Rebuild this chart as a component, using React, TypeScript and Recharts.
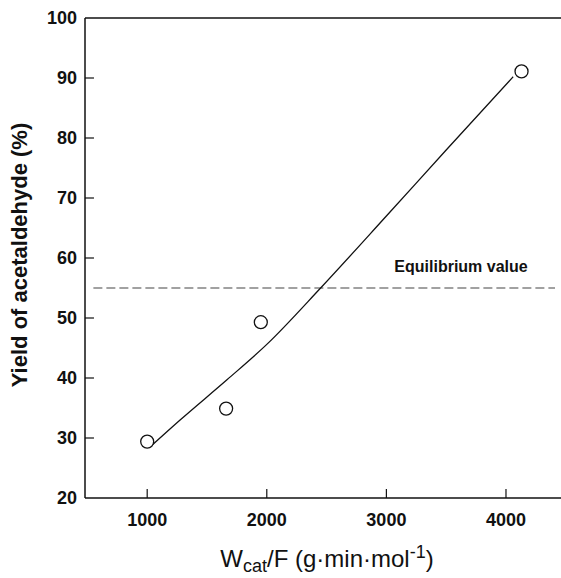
import React from 'react'
import {
  ComposedChart,
  Line,
  Scatter,
  XAxis,
  YAxis,
  ReferenceLine,
  ReferenceDot,
} from 'recharts'

// measured yields
const feedRatio = [1000, 1660, 1950, 4130]
const yieldPct = [29.4, 34.9, 49.3, 91.1]

// fitted curve
const curveX = [1040, 1275, 1667, 2000, 2450, 3000, 3500, 4060]
const curveY = [28.8, 33.0, 39.7, 45.6, 55.0, 67.0, 78.0, 90.2]

const xTicks = [1000, 2000, 3000, 4000]
const yTicks = [20, 30, 40, 50, 60, 70, 80, 90, 100]
const equilibrium = 55

const points = feedRatio.map((x, i) => ({ x, y: yieldPct[i] }))
const curve = curveX.map((x, i) => ({ x, y: curveY[i] }))

const font = '"Liberation Sans", Arial, Helvetica, sans-serif'
const X_MIN = 480
const X_MAX = 4460
const TOP = 18
const PLOT_H = 480

function XTitle(props: any) {
  const vb = props.viewBox || {}
  const cx = vb.x + vb.width / 2 + 4
  return (
    <text x={cx} y={567} textAnchor="middle" fontFamily={font} fontSize={24} fill="#111">
      <tspan>W</tspan>
      <tspan fontSize={18} dy={5}>cat</tspan>
      <tspan dy={-5}>/F (g·min·mol</tspan>
      <tspan fontSize={18} dy={-9}>-1</tspan>
      <tspan dy={9}>)</tspan>
    </text>
  )
}

function YTitle() {
  const cy = TOP + PLOT_H / 2 - 3
  const x = 27
  return (
    <text
      x={x}
      y={cy}
      transform={`rotate(-90, ${x}, ${cy})`}
      textAnchor="middle"
      fontFamily={font}
      fontSize={22}
      fontWeight="bold"
      fill="#111"
    >
      Yield of acetaldehyde (%)
    </text>
  )
}

const OpenCircle = (p: any) => (
  <circle cx={p.cx} cy={p.cy} r={6.5} fill="#fff" stroke="#111" strokeWidth={1.3} />
)

export default function App() {
  const tickStyle = { fontFamily: font, fontSize: 18, fontWeight: 'bold' as const, fill: '#111' }
  return (
    <div style={{ position: 'absolute', left: 0, top: 0, width: 561, height: 578, background: '#fff' }}>
      <ComposedChart width={561} height={578} margin={{ top: TOP, right: 0, bottom: 0, left: 0 }}>
        <XAxis
          type="number"
          dataKey="x"
          domain={[X_MIN, X_MAX]}
          ticks={xTicks}
          allowDataOverflow
          height={80}
          tickLine={false}
          tickSize={0}
          tickMargin={15}
          axisLine={{ stroke: '#111', strokeWidth: 1.5 }}
          tick={tickStyle}
          label={<XTitle />}
        />
        <YAxis
          type="number"
          dataKey="y"
          domain={[20, 100]}
          ticks={yTicks}
          allowDataOverflow
          width={85}
          tickLine={false}
          tickSize={0}
          tickMargin={8}
          axisLine={{ stroke: '#111', strokeWidth: 1.5 }}
          tick={tickStyle}
          label={<YTitle />}
        />
        <ReferenceLine y={100} stroke="#111" strokeWidth={1.5} />
        {yTicks.slice(1, -1).map((v) => (
          <ReferenceLine
            key={'yt' + v}
            segment={[{ x: X_MIN, y: v }, { x: X_MIN + 75, y: v }]}
            stroke="#111"
            strokeWidth={1.2}
          />
        ))}
        {xTicks.map((v) => (
          <ReferenceLine
            key={'xt' + v}
            segment={[{ x: v, y: 20 }, { x: v, y: 21.5 }]}
            stroke="#111"
            strokeWidth={1.2}
          />
        ))}
        <ReferenceLine
          segment={[{ x: 550, y: equilibrium }, { x: 4410, y: equilibrium }]}
          stroke="#444"
          strokeWidth={1.2}
          strokeDasharray="9 4"
        />
        <ReferenceDot
          x={3624}
          y={equilibrium}
          r={0}
          fill="none"
          stroke="none"
          label={{
            value: 'Equilibrium value',
            position: 'top',
            offset: 16,
            fontFamily: font,
            fontSize: 16,
            fontWeight: 'bold',
            fill: '#111',
          }}
        />
        <Line
          data={curve}
          dataKey="y"
          type="monotone"
          stroke="#111"
          strokeWidth={1.3}
          dot={false}
          activeDot={false}
          isAnimationActive={false}
        />
        <Scatter data={points} dataKey="y" shape={OpenCircle} isAnimationActive={false} />
      </ComposedChart>
    </div>
  )
}
